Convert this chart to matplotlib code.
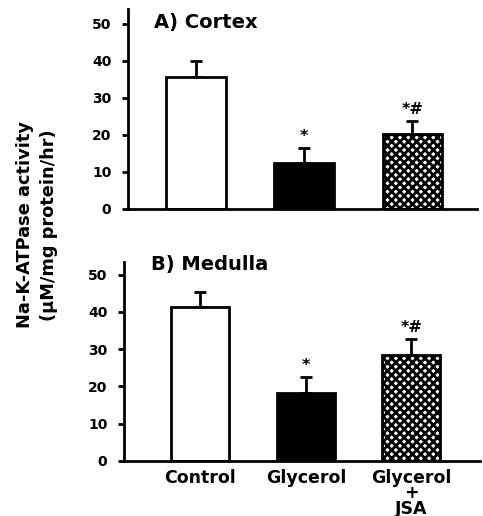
import matplotlib
matplotlib.use("Agg")
import matplotlib.pyplot as plt

plt.rcParams['font.family'] = ['DejaVu Sans']
plt.rcParams['font.weight'] = 'bold'
plt.rcParams['hatch.linewidth'] = 2.0

categories = ["Control", "Glycerol", "Glycerol\n+\nJSA"]
cortex_means = [35.5, 12.5, 20.3]
cortex_errs = [4.5, 3.9, 3.4]
medulla_means = [41.3, 18.3, 28.5]
medulla_errs = [4.0, 4.3, 4.3]
cortex_marks = ["", "*", "*#"]
medulla_marks = ["", "*", "*#"]
panel_titles = ["A) Cortex", "B) Medulla"]
yticks = [0, 10, 20, 30, 40, 50]

fig = plt.figure(figsize=(4.83, 5.16), dpi=100)
ax1 = fig.add_axes([0.265, 0.595, 0.723, 0.388])
ax2 = fig.add_axes([0.257, 0.107, 0.737, 0.386])

faces = ['white', 'black', 'white']
hatches = [None, None, 'xxxx']

def draw(ax, means, errs, marks, title, title_y, ylim_top, xl):
    x = list(range(len(means)))
    for i in x:
        ax.bar(i, means[i], width=0.55, color=faces[i], edgecolor='black',
               linewidth=2, hatch=hatches[i], zorder=2)
        ax.errorbar(i, means[i], yerr=[[0], [errs[i]]], fmt='none', ecolor='black',
                    elinewidth=2, capsize=4, capthick=2, zorder=1)
        if marks[i]:
            ax.text(i, means[i] + errs[i] + 1.0, marks[i], ha='center', va='bottom',
                    fontsize=11.5, fontweight='bold')
    ax.set_xlim(*xl)
    ax.set_ylim(0, ylim_top)
    ax.set_yticks(yticks)
    ax.set_yticklabels([str(t) for t in yticks], fontsize=10, fontweight='bold')
    for s in ['top', 'right']:
        ax.spines[s].set_visible(False)
    ax.spines['left'].set_linewidth(2)
    ax.spines['bottom'].set_linewidth(2)
    ax.tick_params(axis='y', direction='out', length=4, width=2, pad=8)
    ax.tick_params(axis='x', length=0)
    ax.text(0.075, title_y, title, transform=ax.transAxes, ha='left', va='center',
            fontsize=14, fontweight='bold')

draw(ax1, cortex_means, cortex_errs, cortex_marks, panel_titles[0], 0.93, 54, (-0.63, 2.6))
ax1.set_xticks([])
draw(ax2, medulla_means, medulla_errs, medulla_marks, panel_titles[1], 0.985, 53.5, (-0.72, 2.65))
ax2.set_xticks(range(len(categories)))
ax2.set_xticklabels(categories, fontsize=12.5, fontweight='bold', linespacing=0.8)
ax2.tick_params(axis='x', pad=6)

fig.text(0.077, 0.564, "Na-K-ATPase activity\n(\u03bcM/mg protein/hr)", rotation=90,
         ha='center', va='center', fontsize=12.8, fontweight='bold', linespacing=1.4)

fig.savefig("out.png", dpi=100)
